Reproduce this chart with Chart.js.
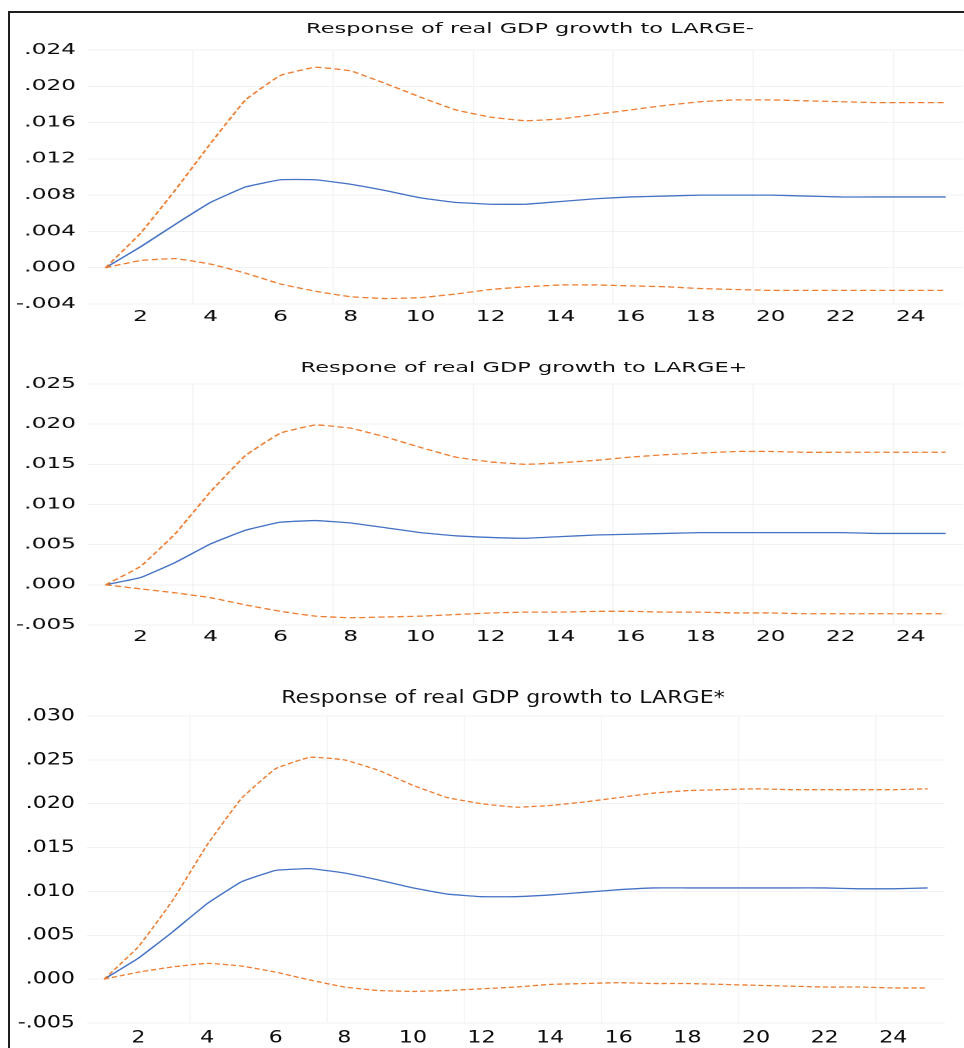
<!DOCTYPE html>
<html>
<head>
<meta charset="utf-8">
<script src="https://cdn.jsdelivr.net/npm/chart.js@4.4.1/dist/chart.umd.min.js"></script>
<style>
  html, body { margin: 0; padding: 0; background: #fff; width: 964px; height: 1048px; overflow: hidden; }
  #frame { position: absolute; left: 8px; top: 11px; width: 970px; height: 1050px;
           border-top: 2px solid #1e1e1e; border-left: 2px solid #1e1e1e; }
  .panel { position: absolute; left: 10px; transform-origin: 0 0; }
  .panel canvas { position: absolute; left: 0; top: 0; }
  .title { position: absolute; white-space: nowrap; transform: translateX(-50%);
           font-family: "DejaVu Sans", sans-serif; color: #111; line-height: 20px; }
</style>
</head>
<body>
<div id="frame"></div>
<div id="root"></div>
<script>
// horizon (periods) and the labels shown on the x axis
const periods = [1, 2, 3, 4, 5, 6, 7, 8, 9, 10, 11, 12, 13, 14, 15, 16, 17, 18, 19, 20, 21, 22, 23, 24, 25];
const shownPeriods = [2, 4, 6, 8, 10, 12, 14, 16, 18, 20, 22, 24];

// Response of real GDP growth to LARGE-
const titleMinus = 'Response of real GDP growth to LARGE-';
const respMinus  = [0, .0023, .0048, .0072, .0089, .0097, .0097, .0092, .0085, .0077, .0072, .0070, .0070, .0073, .0076, .0078, .0079, .0080, .0080, .0080, .0079, .0078, .0078, .0078, .0078];
const upperMinus = [0, .0038, .0086, .0137, .0185, .0212, .0221, .0217, .0203, .0188, .0174, .0166, .0162, .0164, .0169, .0174, .0179, .0183, .0185, .0185, .0184, .0183, .0182, .0182, .0182];
const lowerMinus = [0, .0008, .0010, .0004, -.0006, -.0018, -.0026, -.0032, -.0034, -.0033, -.0029, -.0024, -.0021, -.0019, -.0019, -.0020, -.0021, -.0023, -.0024, -.0025, -.0025, -.0025, -.0025, -.0025, -.0025];
const yTicksMinus = [-0.004, 0, 0.004, 0.008, 0.012, 0.016, 0.020, 0.024];

// Respone of real GDP growth to LARGE+
const titlePlus = 'Respone of real GDP growth to LARGE+';
const respPlus  = [0, .0009, .0028, .0051, .0068, .0078, .0080, .0077, .0071, .0065, .0061, .0059, .0058, .0060, .0062, .0063, .0064, .0065, .0065, .0065, .0065, .0065, .0064, .0064, .0064];
const upperPlus = [0, .0023, .0064, .0116, .0161, .0189, .0199, .0195, .0184, .0171, .0159, .0153, .0150, .0152, .0155, .0159, .0162, .0164, .0166, .0166, .0165, .0165, .0165, .0165, .0165];
const lowerPlus = [0, -.0005, -.0010, -.0016, -.0025, -.0033, -.0039, -.0041, -.0040, -.0039, -.0037, -.0035, -.0034, -.0034, -.0033, -.0033, -.0034, -.0034, -.0035, -.0035, -.0036, -.0036, -.0036, -.0036, -.0036];
const yTicksPlus = [-0.005, 0, 0.005, 0.010, 0.015, 0.020, 0.025];

// Response of real GDP growth to LARGE*
const titleStar = 'Response of real GDP growth to LARGE*';
const respStar  = [0, .0024, .0054, .0086, .0111, .0124, .0126, .0121, .0113, .0104, .0097, .0094, .0094, .0096, .0099, .0102, .0104, .0104, .0104, .0104, .0104, .0104, .0103, .0103, .0104];
const upperStar = [0, .0037, .0090, .0153, .0206, .0240, .0253, .0250, .0238, .0221, .0207, .0200, .0196, .0198, .0202, .0207, .0212, .0215, .0216, .0217, .0216, .0216, .0216, .0216, .0217];
const lowerStar = [0, .0008, .0014, .0018, .0015, .0008, -.0001, -.0009, -.0013, -.0014, -.0013, -.0011, -.0009, -.0006, -.0005, -.0004, -.0005, -.0005, -.0006, -.0007, -.0008, -.0009, -.0009, -.0010, -.0010];
const yTicksStar = [-0.005, 0, 0.005, 0.010, 0.015, 0.020, 0.025, 0.030];

const BLUE = '#4472C4';
const ORANGE = '#ED7D31';
const GRID = '#f1f1f1';

// the original picture is stretched sideways, so each panel is drawn narrow and scaled in x
function fmt(v) {
  if (Math.abs(v) < 1e-9) return '.000';
  return (v < 0 ? '-' : '') + Math.abs(v).toFixed(3).replace(/^0/, '');
}

function makePanel(p, title, resp, upper, lower, yTicks) {
  const cw = Math.round((p.plotRight - 10) / p.S);
  const wrap = document.createElement('div');
  wrap.className = 'panel';
  wrap.style.top = p.top + 'px';
  wrap.style.width = cw + 'px';
  wrap.style.height = p.h + 'px';
  wrap.style.transform = 'scaleX(' + p.S + ')';

  const canvas = document.createElement('canvas');
  canvas.width = cw;
  canvas.height = p.h;
  canvas.style.width = cw + 'px';
  canvas.style.height = p.h + 'px';
  wrap.appendChild(canvas);

  const t = document.createElement('div');
  t.className = 'title';
  t.textContent = title;
  t.style.fontSize = p.titleFont + 'px';
  t.style.left = ((p.titleX - 10) / p.S) + 'px';
  t.style.top = (p.titleY - p.top - 10) + 'px';
  wrap.appendChild(t);

  document.getElementById('root').appendChild(wrap);

  const band = (data) => ({
    data: data, borderColor: ORANGE, borderWidth: 1.3, borderDash: [4, 2.2],
    pointRadius: 0, tension: 0.1, fill: false
  });

  new Chart(canvas, {
    type: 'line',
    data: {
      labels: periods.map(String),
      datasets: [
        band(upper),
        band(lower),
        { data: resp, borderColor: BLUE, borderWidth: 1.3, pointRadius: 0, tension: 0.1, fill: false }
      ]
    },
    options: {
      responsive: false,
      animation: false,
      devicePixelRatio: 2,
      layout: { padding: { top: p.padTop, bottom: p.padBottom, left: 0, right: 0 } },
      plugins: { legend: { display: false }, tooltip: { enabled: false }, title: { display: false } },
      scales: {
        x: {
          type: 'category',
          offset: true,
          grid: {
            offset: true, drawTicks: false, lineWidth: 0.7,
            color: (c) => (c.index % 4 === 3 ? GRID : 'rgba(0,0,0,0)')
          },
          border: { display: false },
          ticks: {
            autoSkip: false, maxRotation: 0, padding: p.xPad, color: '#0a0a0a',
            font: { family: 'DejaVu Sans', size: p.font },
            callback: (v, i) => (shownPeriods.includes(periods[i]) ? String(periods[i]) : '')
          },
          afterFit: (s) => { s.height = 24; }
        },
        y: {
          min: yTicks[0],
          max: yTicks[yTicks.length - 1],
          afterBuildTicks: (s) => { s.ticks = yTicks.map((v) => ({ value: v })); },
          grid: { drawTicks: false, color: GRID, lineWidth: 1 },
          border: { display: false },
          ticks: {
            padding: p.labelGap / p.S, color: '#0a0a0a',
            font: { family: 'DejaVu Sans', size: p.font },
            callback: (v) => fmt(v)
          },
          afterFit: (s) => { s.width = (p.plotLeft - 10) / p.S; }
        }
      }
    }
  });
}

makePanel({ top: 12, h: 320, S: 1.55, plotLeft: 88, plotRight: 963, labelGap: 12, padTop: 38, padBottom: 4,
            xPad: 4, font: 15, titleFont: 14.5, titleX: 530, titleY: 28 },
          titleMinus, respMinus, upperMinus, lowerMinus, yTicksMinus);

makePanel({ top: 340, h: 320, S: 1.55, plotLeft: 88, plotRight: 963, labelGap: 12, padTop: 44, padBottom: 11,
            xPad: 3, font: 15, titleFont: 14.5, titleX: 524, titleY: 367 },
          titlePlus, respPlus, upperPlus, lowerPlus, yTicksPlus);

makePanel({ top: 680, h: 368, S: 1.3, plotLeft: 87, plotRight: 945, labelGap: 12, padTop: 36, padBottom: 1,
            xPad: 5, font: 17, titleFont: 17, titleX: 503, titleY: 697 },
          titleStar, respStar, upperStar, lowerStar, yTicksStar);
</script>
</body>
</html>
